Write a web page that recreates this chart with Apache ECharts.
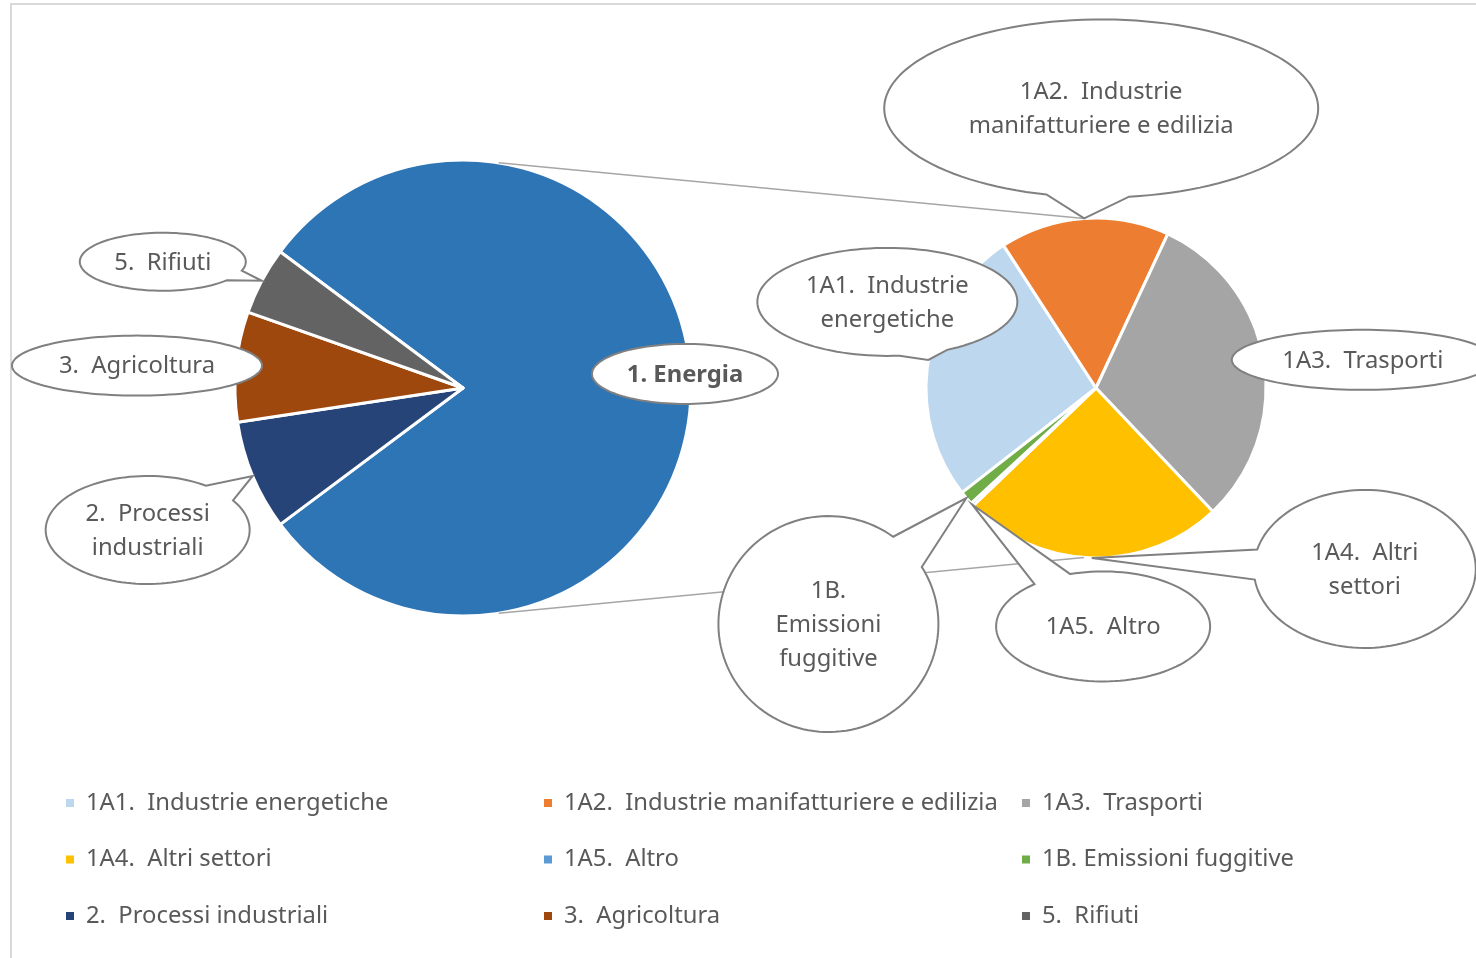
<!DOCTYPE html>
<html><head><meta charset="utf-8">
<script src="https://cdn.jsdelivr.net/npm/echarts@6/dist/echarts.min.js"></script>
<style>html,body{margin:0;padding:0;background:#fff;overflow:hidden}#c{width:1476px;height:958px}</style>
</head><body><div id="c"></div>
<script>
// ---------- DATA ----------
const mainCategories = ['1. Energia', '2.  Processi industriali', '3.  Agricoltura', '5.  Rifiuti'];
const mainValues = [79.6, 7.8, 7.8, 4.8];

const energyCategories = [
  '1A1.  Industrie energetiche',
  '1A2.  Industrie manifatturiere e edilizia',
  '1A3.  Trasporti',
  '1A4.  Altri settori',
  '1A5.  Altro',
  '1B. Emissioni fuggitive'
];
const energyValues = [26.4, 16.1, 31.0, 24.9, 0.3, 1.3];

const legendCol1 = ['1A1.  Industrie energetiche', '1A4.  Altri settori', '2.  Processi industriali'];
const legendCol2 = ['1A2.  Industrie manifatturiere e edilizia', '1A5.  Altro', '3.  Agricoltura'];
const legendCol3 = ['1A3.  Trasporti', '1B. Emissioni fuggitive', '5.  Rifiuti'];

// ---------- STYLE / LAYOUT ----------
const FONT = '"Noto Sans", "Open Sans", sans-serif';
const TEXT = '#595959';
const colorMap = {
  '1. Energia': '#2E75B6',
  '2.  Processi industriali': '#264478',
  '3.  Agricoltura': '#9E480E',
  '5.  Rifiuti': '#636363',
  '1A1.  Industrie energetiche': '#BDD7EE',
  '1A2.  Industrie manifatturiere e edilizia': '#ED7D31',
  '1A3.  Trasporti': '#A5A5A5',
  '1A4.  Altri settori': '#FFC000',
  '1A5.  Altro': '#5B9BD5',
  '1B. Emissioni fuggitive': '#70AD47'
};
// callout ellipse: offset of centre from slice tip, radii, wrapped text
const callouts = {
  '1. Energia': {dx: -6, dy: -14, rx: 93, ry: 30, text: '1. Energia', bold: true},
  '2.  Processi industriali': {dx: -105, dy: 54, rx: 102, ry: 54, text: '2.  Processi\nindustriali'},
  '3.  Agricoltura': {dx: -99, dy: -1, rx: 125, ry: 30, text: '3.  Agricoltura'},
  '5.  Rifiuti': {dx: -99, dy: -19, rx: 83, ry: 29, text: '5.  Rifiuti'},
  '1A1.  Industrie energetiche': {dx: -41, dy: -58, rx: 130, ry: 54, text: '1A1.  Industrie\nenergetiche'},
  '1A2.  Industrie manifatturiere e edilizia': {dx: 17, dy: -110, rx: 217, ry: 89, text: '1A2.  Industrie\nmanifatturiere e edilizia'},
  '1A3.  Trasporti': {dx: 99, dy: -1, rx: 131, ry: 30, text: '1A3.  Trasporti'},
  '1A4.  Altri settori': {dx: 273, dy: 11, rx: 111, ry: 79, text: '1A4.  Altri\nsettori'},
  '1A5.  Altro': {dx: 131, dy: 122, rx: 107, ry: 55, text: '1A5.  Altro'},
  '1B. Emissioni fuggitive': {dx: -138, dy: 126, rx: 110, ry: 108, text: '1B.\nEmissioni\nfuggitive'}
};

const chart = echarts.init(document.getElementById('c'), null, {renderer: 'canvas'});

function legendFor(col, left) {
  return {
    data: col, orient: 'vertical', left: left, top: 790, padding: 0,
    itemWidth: 10, itemHeight: 10, itemGap: 30.5, icon: 'rect', selectedMode: false,
    textStyle: {color: TEXT, fontSize: 23.8, fontFamily: FONT, lineHeight: 26, padding: [0, 0, 0, 6]}
  };
}

const option = {
  animation: false,
  backgroundColor: '#fff',
  legend: [legendFor(legendCol1, 64), legendFor(legendCol2, 542), legendFor(legendCol3, 1020)],
  series: [
    {
      type: 'pie', center: [463, 388], radius: 228, startAngle: 143.3, clockwise: true,
      silent: true, label: {show: false}, labelLine: {show: false},
      itemStyle: {borderColor: '#fff', borderWidth: 3},
      data: mainCategories.map((n, i) => ({name: n, value: mainValues[i], itemStyle: {color: colorMap[n]}}))
    },
    {
      type: 'pie', center: [1096, 388], radius: 170, startAngle: 218, clockwise: true,
      silent: true, label: {show: false}, labelLine: {show: false},
      itemStyle: {borderColor: '#fff', borderWidth: 3},
      data: energyCategories.map((n, i) => ({name: n, value: energyValues[i], itemStyle: {color: colorMap[n]}}))
    }
  ]
};
chart.setOption(option);

// ---------- callouts from the library's pie layout ----------
function sliceLayouts(seriesIndex) {
  const data = chart.getModel().getSeriesByIndex(seriesIndex).getData();
  const out = [];
  for (let i = 0; i < data.count(); i++) {
    out.push({name: data.getName(i), layout: data.getItemLayout(i)});
  }
  return out;
}
const elements = [];
// chart frame
elements.push({type: 'rect', silent: true, z: 1, shape: {x: 11, y: 4, width: 2000, height: 2000},
  style: {fill: 'none', stroke: '#d9d9d9', lineWidth: 2}});

const L0 = sliceLayouts(0), L1 = sliceLayouts(1);
const p0 = L0[0].layout, p1 = L1[0].layout;
// series lines (pie of pie connectors)
const a1 = 9 * Math.PI / 180, a2 = 4 * Math.PI / 180;
elements.push({type: 'line', silent: true, z: 5,
  shape: {x1: p0.cx + p0.r * Math.sin(a1), y1: p0.cy - p0.r * Math.cos(a1),
          x2: p1.cx - p1.r * Math.sin(a2), y2: p1.cy - p1.r * Math.cos(a2)},
  style: {stroke: '#a6a6a6', lineWidth: 1.5}});
elements.push({type: 'line', silent: true, z: 5,
  shape: {x1: p0.cx + p0.r * Math.sin(a1), y1: p0.cy + p0.r * Math.cos(a1),
          x2: p1.cx - p1.r * Math.sin(a2), y2: p1.cy + p1.r * Math.cos(a2)},
  style: {stroke: '#a6a6a6', lineWidth: 1.5}});

let zc = 10;
L0.concat(L1).forEach(s => {
  const c = callouts[s.name];
  if (!c) return;
  const l = s.layout;
  const mid = (l.startAngle + l.endAngle) / 2;
  const tx = l.cx + l.r * Math.cos(mid), ty = l.cy + l.r * Math.sin(mid);
  const cx = tx + c.dx, cy = ty + c.dy;
  const ux = (tx - cx) / c.rx, uy = (ty - cy) / c.ry;
  const pts = [];
  const N = 120;
  if (Math.hypot(ux, uy) <= 1.02) {
    for (let k = 0; k < N; k++) {
      const t = k / N * Math.PI * 2;
      pts.push([cx + c.rx * Math.cos(t), cy + c.ry * Math.sin(t)]);
    }
  } else {
    const phi = Math.atan2(uy, ux), d = 11 * Math.PI / 180;
    for (let k = 0; k <= N; k++) {
      const t = phi + d + k / N * (Math.PI * 2 - 2 * d);
      pts.push([cx + c.rx * Math.cos(t), cy + c.ry * Math.sin(t)]);
    }
    pts.push([tx, ty]);
  }
  elements.push({type: 'polygon', silent: true, z: zc, shape: {points: pts},
    style: {fill: '#fff', stroke: '#808080', lineWidth: 2}});
  elements.push({type: 'text', silent: true, z: zc + 1, x: cx, y: cy + 1,
    style: {text: c.text, fill: TEXT, fontSize: 23.8, fontFamily: FONT, fontWeight: c.bold ? 'bold' : 'normal',
      lineHeight: 34, align: 'center', verticalAlign: 'middle', textAlign: 'center', textVerticalAlign: 'middle'}});
  zc += 2;
});
chart.setOption({graphic: {elements: elements}});
</script>
</body></html>
